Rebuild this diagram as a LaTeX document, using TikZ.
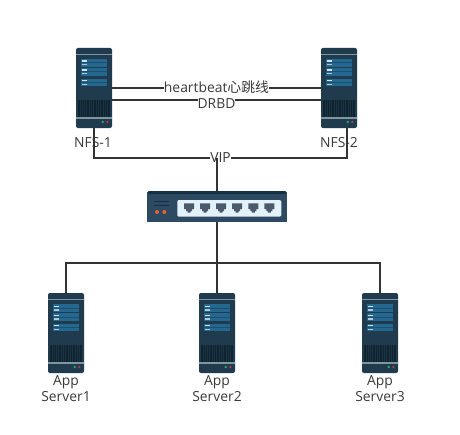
\documentclass[tikz,border=0pt]{standalone}
\usepackage{fontspec}
\setmainfont{Open Sans}
\newfontfamily\cjkfont{Noto Sans CJK SC}
\usetikzlibrary{calc}
\definecolor{srvbody}{HTML}{1F3B4D}
\definecolor{srvdark}{HTML}{10242F}
\definecolor{srvbar}{HTML}{7F959F}
\definecolor{srvblue}{HTML}{24678F}
\definecolor{srvstripe}{HTML}{1C4F70}
\definecolor{swbody}{HTML}{2E4A63}
\definecolor{swtop}{HTML}{153045}
\definecolor{swpanel}{HTML}{E3F1F8}
\definecolor{swport}{HTML}{4A5A6C}
\definecolor{orangedot}{HTML}{E0662E}
\definecolor{linkc}{HTML}{333333}
\definecolor{textc}{HTML}{3A3A3A}
\definecolor{ledg}{HTML}{2FA36B}
\definecolor{ledr}{HTML}{C8324F}
\tikzset{
  x=0.75pt,y=-0.75pt,
  link/.style={draw=linkc,line width=1.5pt},
  srvnode/.style={rectangle,fill=srvbody,rounded corners=1.5pt,minimum width=27pt,minimum height=60pt,inner sep=0pt,outer sep=0pt},
  swnode/.style={rectangle,fill=swbody,minimum width=105pt,minimum height=23.25pt,inner sep=0pt,outer sep=0pt},
  lbl/.style={text=textc,font=\fontsize{10.4}{12.6}\selectfont,align=center,inner sep=0pt},
  onlink/.style={lbl,fill=white,inner xsep=0pt,inner ysep=0pt,minimum height=9pt},
}
\newcommand{\srvpanel}[1]{%
  \fill[srvblue] (5,#1) rectangle (31,#1+7.4);
  \fill[srvstripe] (5,#1+3.2) rectangle (31,#1+4.2);
  \fill[white!80!srvblue] (5.8,#1+1.2) rectangle (10.5,#1+2.4);
  \fill[white!65!srvblue] (5.8,#1+5) rectangle (10.5,#1+6.2);
}
\newcommand{\server}[3]{% name, left, top
  \node[srvnode] (#1) at (#2+18,#3+40) {};
  \begin{scope}[shift={(#2,#3)}]
    \fill[srvbar] (0,6) rectangle (36,7.4);
    \srvpanel{11.3}\srvpanel{20.3}\srvpanel{31}
    \fill[srvdark] (2,51.5) rectangle (34,68.7);
    \foreach \i in {0,...,12}{\fill[srvbody!70!srvdark] (3.5+2.3*\i,52) rectangle (4.2+2.3*\i,68.5);}
    \fill[srvbar] (0,68.7) rectangle (36,70.6);
    \fill[ledg] (26.7,74) circle (1.3);
    \fill[ledr] (31.4,74) circle (1.3);
  \end{scope}
}
\begin{document}
\begin{tikzpicture}
\useasboundingbox (0,0) rectangle (460,435);
\fill[white] (0,0) rectangle (460,435);
% servers
\server{nfsa}{76}{48}
\server{nfsb}{321}{48}
\server{appa}{48}{293}
\server{appb}{199}{293}
\server{appc}{362}{293}
% switch
\node[swnode] (sw) at (217,206.5) {};
\fill[swtop,rounded corners=1pt] (147.5,194) -- (147.5,192) -- (149.5,191) -- (285,191) -- (286.5,192) -- (286.5,194) -- cycle;
\fill[white] (147,191) rectangle (148.2,192) (285.8,191) rectangle (287,192);
\fill[swpanel,rounded corners=1pt] (177.3,200) rectangle (281.3,216.7);
\foreach \px in {189,205,221,237,253.3,269.3}{
  \fill[swport] (\px-5,203.3) -- (\px+5,203.3) -- (\px+5,209) -- (\px+3,209) -- (\px+3,211) -- (\px+1.5,211) -- (\px+1.5,212.7) -- (\px-1.5,212.7) -- (\px-1.5,211) -- (\px-3,211) -- (\px-3,209) -- (\px-5,209) -- cycle;
}
\fill[orangedot] (157,212) circle (2);
\fill[orangedot] (164.3,212) circle (2);
\draw[swtop,line width=.5pt] (154,201.7) -- (169.3,201.7) (154,205) -- (169.3,205);
% labels under servers
\node[lbl] (nfsal) at (93,143) {NFS-1};
\node[lbl] (nfsbl) at (339,143) {NFS-2};
\node[lbl] (appal) at (66,388.5) {App\\Server1};
\node[lbl] (appbl) at (217,388.5) {App\\Server2};
\node[lbl] (appcl) at (380,388.5) {App\\Server3};
% anchors
\coordinate (hb) at (0,87.7);
\coordinate (dr) at (0,100);
\coordinate (vipl) at (94,157.7);
\coordinate (vipr) at (347,157.7);
\coordinate (vipc) at (217,157.7);
\coordinate (busl) at (66,263);
\coordinate (busr) at (380,263);
\coordinate (busc) at (217,263);
% connectors
\draw[link] (nfsa.east |- hb) -- node[onlink] {heartbeat{\cjkfont 心跳线}} (nfsb.west |- hb);
\draw[link] (nfsa.east |- dr) -- node[onlink,yshift=-3pt] {DRBD} (nfsb.west |- dr);
\draw[link] (vipl |- nfsa.south) -- (vipl) -- node[onlink] {VIP} (vipr) -- (vipr |- nfsb.south);
\draw[link] (vipc) -- (sw.north);
\draw[link] (sw.south) -- (busc);
\draw[link] (appa.north) -- (busl) -- (busr) -- (appc.north);
\draw[link] (busc) -- (appb.north);
\end{tikzpicture}
\end{document}
